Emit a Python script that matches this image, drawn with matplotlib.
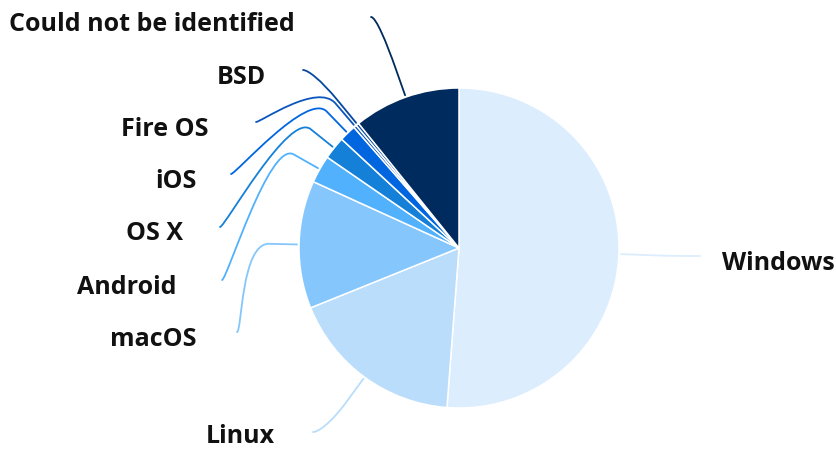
import numpy as np
import matplotlib
matplotlib.use("Agg")
import matplotlib.pyplot as plt
from matplotlib.path import Path
from matplotlib.patches import PathPatch

# ---- data ----
categories = ["Windows", "Linux", "macOS", "Android", "OS X", "iOS",
              "Fire OS", "BSD", "Could not be identified"]
shares = [51.2, 17.7, 12.9, 2.8, 2.3, 1.7, 0.3, 0.3, 10.8]
colors = ["#dcedfd", "#b9ddfb", "#85c7fc", "#52b1fc", "#1580d8", "#0066e0",
          "#0a56bc", "#0548a0", "#002b5e"]

# ---- layout (pixel coordinates, y measured from top) ----
W, H = 837, 450
cx, cy, R = 459, 248, 160
# connector start points near the labels
conn_start = {
    "Windows": (700, 256), "Linux": (313, 432), "macOS": (237, 332),
    "Android": (222, 280), "OS X": (220, 227), "iOS": (231, 174),
    "Fire OS": (256, 122), "BSD": (303, 70),
    "Could not be identified": (371, 17),
}
# label anchor: (x, y, ha)
label_pos = {
    "Windows": (722, 263, "left"), "Linux": (275, 437, "right"),
    "macOS": (197, 339, "right"), "Android": (177, 287, "right"),
    "OS X": (183, 234, "right"), "iOS": (197, 182, "right"),
    "Fire OS": (209, 130, "right"), "BSD": (266, 77, "right"),
    "Could not be identified": (295, 24, "right"),
}

fig = plt.figure(figsize=(W / 100, H / 100), dpi=100)
ax = fig.add_axes([0, 0, 1, 1])

def fy(y):
    return H - y

ax.pie(shares, colors=colors, startangle=90, counterclock=False,
       center=(cx, fy(cy)), radius=R, frame=True,
       wedgeprops=dict(edgecolor="white", linewidth=1.1))

ax.set_xlim(0, W)
ax.set_ylim(0, H)
ax.set_aspect("equal")
ax.axis("off")

total = sum(shares)
cum = np.cumsum([0] + shares) / total * 360.0
for i, name in enumerate(categories):
    mid = np.deg2rad((cum[i] + cum[i + 1]) / 2)  # clockwise from top
    dx, dy = np.sin(mid), -np.cos(mid)  # image coords (y down)
    tx, ty = cx + dx * (R + 2), cy + dy * (R + 2)
    bx, by = cx + dx * (R + 30), cy + dy * (R + 30)
    c2x, c2y = 2 * bx - tx, 2 * by - ty
    lx, ly = conn_start[name]
    ha = label_pos[name][2]
    c1x = lx + (-5 if ha == "left" else 5)
    verts = [(lx, fy(ly)), (c1x, fy(ly)), (c2x, fy(c2y)), (bx, fy(by)),
             (tx, fy(ty))]
    codes = [Path.MOVETO, Path.CURVE4, Path.CURVE4, Path.CURVE4, Path.LINETO]
    ax.add_patch(PathPatch(Path(verts, codes), facecolor="none",
                           edgecolor=colors[i], linewidth=1.3,
                           capstyle="round", zorder=3))
    x, y, ha = label_pos[name]
    ax.text(x, fy(y), name, ha=ha, va="center", fontsize=18,
            fontweight="bold", family=["Open Sans", "DejaVu Sans"],
            color="#111111")

fig.savefig("out.png", dpi=100)
